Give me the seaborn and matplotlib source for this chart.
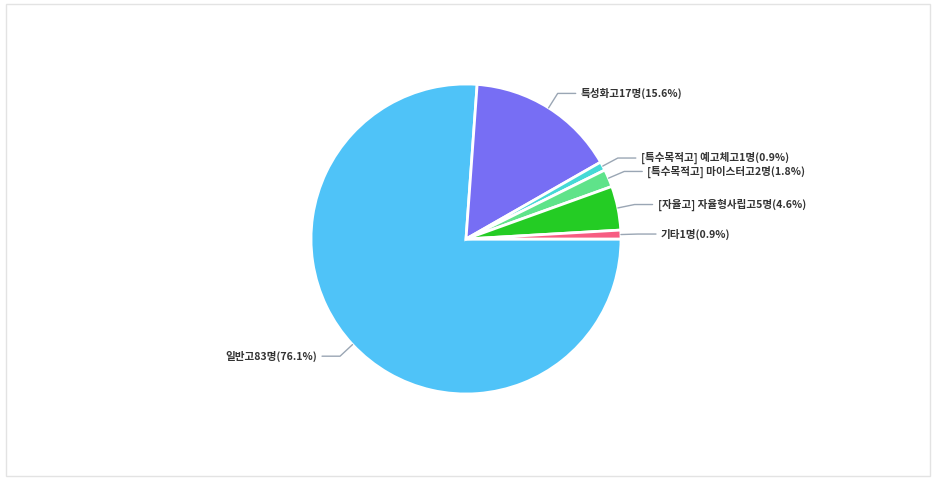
import numpy as np
import matplotlib
matplotlib.use('Agg')
import matplotlib.pyplot as plt
from matplotlib.patches import Rectangle
import seaborn as sns

# data (clockwise from 3 o'clock)
schools = ['일반고', '특성화고', '[특수목적고] 예고체고', '[특수목적고] 마이스터고',
           '[자율고] 자율형사립고', '기타']
counts = [83, 17, 1, 2, 5, 1]
colors = ['#4fc3f8', '#776ef4', '#45d9d6', '#5fe38a', '#24cc24', '#f75d82']

sns.set_theme(style='white')
plt.rcParams['font.family'] = ['Noto Sans CJK KR', 'DejaVu Sans']

W, H = 936, 479
fig = plt.figure(figsize=(W / 100, H / 100), dpi=100)
ax = fig.add_axes([0, 0, 1, 1])

cx, cy, r = 466, H - 239, 155
wedges, _ = ax.pie(counts, colors=colors, startangle=0, counterclock=False,
                   radius=r, center=(cx, cy),
                   wedgeprops=dict(edgecolor='white', linewidth=2))
ax.set_xlim(0, W)
ax.set_ylim(0, H)
ax.set_aspect('equal')
ax.axis('off')

# light frame around the chart
ax.add_patch(Rectangle((5.5, 3.5), 924.5, 472, fill=False, edgecolor='#e3e3e3', linewidth=1))

total = sum(counts)
for w, name, n in zip(wedges, schools, counts):
    ang = np.deg2rad((w.theta1 + w.theta2) / 2)
    c, s = np.cos(ang), np.sin(ang)
    x0, y0 = cx + r * c, cy + r * s
    x1, y1 = cx + 1.11 * r * c, cy + 1.11 * r * s
    side = 1 if c >= 0 else -1
    x2 = x1 + side * 18
    ax.plot([x0, x1, x2], [y0, y1, y1], color='#9aa6b4', linewidth=1)
    label = f'{name}{n}명({n / total * 100:.1f}%)'
    ax.text(x2 + side * 5, y1, label, ha='left' if side > 0 else 'right', va='center',
            fontsize=7.6, fontweight='bold', color='#333333')

fig.savefig('out.png', dpi=100)
